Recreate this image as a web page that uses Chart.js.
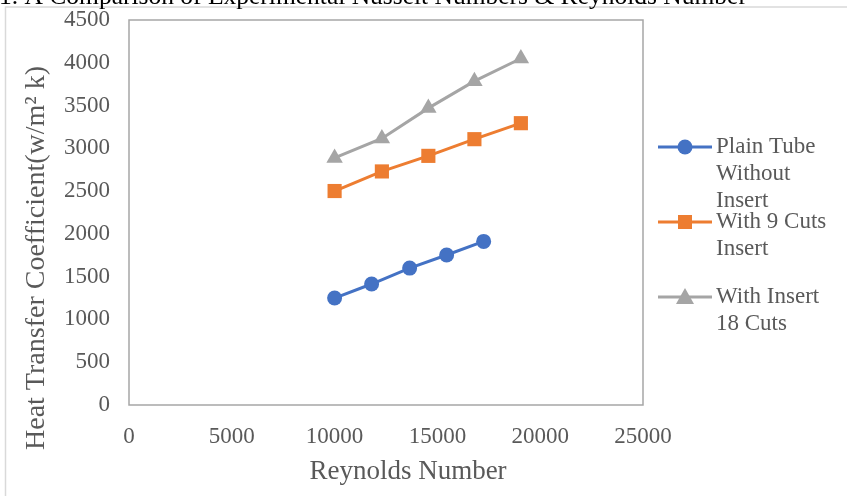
<!DOCTYPE html>
<html>
<head>
<meta charset="utf-8">
<script src="https://cdn.jsdelivr.net/npm/chart.js@4.4.1/dist/chart.umd.min.js"></script>
<style>
  html, body { margin: 0; padding: 0; background: #ffffff; }
  #wrap { width: 847px; height: 496px; position: relative; }
</style>
</head>
<body>
<div id="wrap"><canvas id="c" width="847" height="496"></canvas></div>
<script>
// Reynolds number vs heat transfer coefficient for three tube configurations
const figureCaption = "1. A Comparison of Experimental Nusselt Numbers & Reynolds Number";
const xAxisTitle = "Reynolds Number";
const yAxisTitle = "Heat Transfer Coefficient(w/m\u00B2 k)";

const plainRe  = [10000, 11800, 13650, 15450, 17250];
const plainH   = [1250, 1414, 1600, 1753, 1912];

const cuts9Re  = [10000, 12300, 14560, 16800, 19060];
const cuts9H   = [2501, 2730, 2912, 3107, 3294];

const cuts18Re = [10000, 12300, 14560, 16800, 19060];
const cuts18H  = [2888, 3115, 3470, 3785, 4050];

const seriesNames = ["Plain Tube Without Insert", "With 9 Cuts Insert", "With Insert 18 Cuts"];
const legendLines = [["Plain Tube", "Without", "Insert"], ["With 9 Cuts", "Insert"], ["With Insert", "18 Cuts"]];

const xTicks = [0, 5000, 10000, 15000, 20000, 25000];
const yTicks = [0, 500, 1000, 1500, 2000, 2500, 3000, 3500, 4000, 4500];

const colors = ["#4472C4", "#ED7D31", "#A5A5A5"];
const styles = ["circle", "rect", "triangle"];
const serif = "'Liberation Serif', 'Times New Roman', serif";
const textGray = "#595959";

function pts(xs, ys) { return xs.map((x, i) => ({ x: x, y: ys[i] })); }

function drawMarker(ctx, style, x, y, color) {
  ctx.save();
  ctx.fillStyle = color;
  ctx.beginPath();
  if (style === "circle") {
    ctx.arc(x, y, 7.5, 0, Math.PI * 2);
  } else if (style === "rect") {
    ctx.rect(x - 7, y - 7, 14, 14);
  } else {
    ctx.moveTo(x, y - 9);
    ctx.lineTo(x + 9, y + 7);
    ctx.lineTo(x - 9, y + 7);
    ctx.closePath();
  }
  ctx.fill();
  ctx.restore();
}

const decorations = {
  id: "decorations",
  beforeDraw(chart) {
    const ctx = chart.ctx;
    ctx.save();
    // outer chart frame
    ctx.strokeStyle = "#d9d9d9";
    ctx.lineWidth = 1.5;
    ctx.beginPath();
    ctx.moveTo(5.5, 500);
    ctx.lineTo(5.5, 7);
    ctx.lineTo(850, 7);
    ctx.stroke();
    // caption above the frame
    ctx.fillStyle = "#000000";
    ctx.font = "25.5px " + serif;
    ctx.textBaseline = "alphabetic";
    ctx.textAlign = "left";
    ctx.fillText(figureCaption, -1, 4);
    ctx.restore();
  },
  afterDraw(chart) {
    const ctx = chart.ctx;
    const a = chart.chartArea;
    ctx.save();
    // plot area border
    ctx.strokeStyle = "#a6a6a6";
    ctx.lineWidth = 1.5;
    ctx.strokeRect(a.left, a.top, a.right - a.left, a.bottom - a.top);

    // axis titles
    ctx.fillStyle = textGray;
    ctx.textAlign = "center";
    ctx.textBaseline = "middle";
    ctx.font = "27px " + serif;
    ctx.fillText(xAxisTitle, 408, 472);
    ctx.save();
    ctx.translate(37, 258);
    ctx.rotate(-Math.PI / 2);
    ctx.font = "28px " + serif;
    ctx.fillText(yAxisTitle, 0, 0);
    ctx.restore();

    // legend
    const lx0 = 658, lx1 = 712, tx = 716;
    ctx.font = "23px " + serif;
    ctx.textAlign = "left";
    legendLines.forEach((lines, i) => {
      const y = 147 + i * 75;
      ctx.strokeStyle = colors[i];
      ctx.lineWidth = 3;
      ctx.beginPath();
      ctx.moveTo(lx0, y);
      ctx.lineTo(lx1, y);
      ctx.stroke();
      drawMarker(ctx, styles[i], (lx0 + lx1) / 2, y, colors[i]);
      ctx.fillStyle = textGray;
      lines.forEach((t, k) => ctx.fillText(t, tx, y + k * 27));
    });
    ctx.restore();
  }
};

const makeSet = (i, data) => ({
  label: seriesNames[i],
  data: data,
  borderColor: colors[i],
  backgroundColor: colors[i],
  borderWidth: 3,
  pointStyle: styles[i],
  pointRadius: styles[i] === "rect" ? 10 : (styles[i] === "triangle" ? 9.5 : 7.5),
  pointBorderWidth: 0,
  pointHoverRadius: 0,
  tension: 0,
  showLine: true
});

const plain = v => String(v);

new Chart(document.getElementById("c"), {
  type: "scatter",
  data: {
    datasets: [
      makeSet(0, pts(plainRe, plainH)),
      makeSet(1, pts(cuts9Re, cuts9H)),
      makeSet(2, pts(cuts18Re, cuts18H))
    ]
  },
  options: {
    responsive: false,
    animation: false,
    events: [],
    layout: { padding: { left: 0, top: 20, right: 204, bottom: 0 } },
    plugins: { legend: { display: false }, tooltip: { enabled: false }, title: { display: false } },
    scales: {
      x: {
        type: "linear",
        min: xTicks[0],
        max: xTicks[xTicks.length - 1],
        afterFit(s) { s.height = 91; s.paddingLeft = 0; s.paddingRight = 0; },
        afterBuildTicks(s) { s.ticks = xTicks.map(v => ({ value: v })); },
        grid: { display: false, drawTicks: false },
        border: { display: false },
        ticks: { color: textGray, font: { family: serif, size: 23 }, padding: 18, maxRotation: 0, callback: plain }
      },
      y: {
        type: "linear",
        min: yTicks[0],
        max: yTicks[yTicks.length - 1],
        afterFit(s) { s.width = 129; s.paddingTop = 0; s.paddingBottom = 0; },
        afterBuildTicks(s) { s.ticks = yTicks.map(v => ({ value: v })); },
        grid: { display: false, drawTicks: false },
        border: { display: false },
        ticks: { color: textGray, font: { family: serif, size: 23 }, padding: 19, callback: plain }
      }
    }
  },
  plugins: [decorations]
});
</script>
</body>
</html>
